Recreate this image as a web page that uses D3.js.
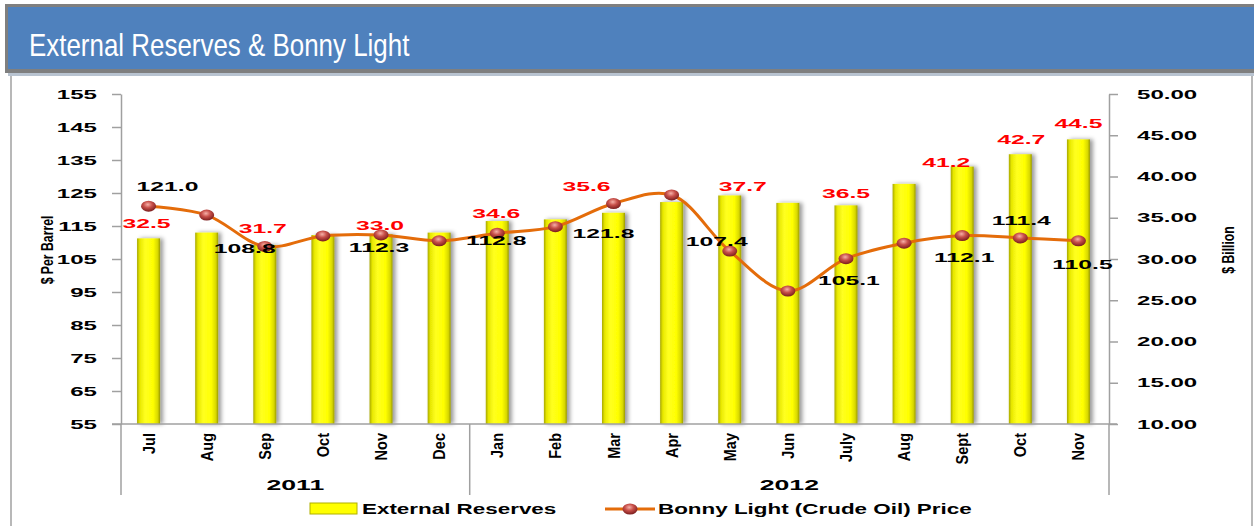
<!DOCTYPE html>
<html>
<head>
<meta charset="utf-8">
<script src="https://cdn.jsdelivr.net/npm/d3@7"></script>
<style>
  body { margin: 0; background: #fff; }
  svg { display: block; font-family: "Liberation Sans", Arial, sans-serif; }
</style>
</head>
<body>
<svg id="chart" width="1254" height="526"></svg>
<script>
// datos
const months = ["Jul", "Aug", "Sep", "Oct", "Nov", "Dec", "Jan", "Feb", "Mar", "Apr", "May", "Jun", "July", "Aug", "Sept", "Oct", "Nov"];
const years = ["2011", "2012"];
const yearLengths = [6, 11];
const reserves = [32.5, 33.2, 31.7, 32.9, 33.0, 33.2, 34.6, 34.8, 35.6, 36.9, 37.7, 36.8, 36.5, 39.1, 41.2, 42.7, 44.5];
const bonny = [121.0, 118.3, 108.8, 112.0, 112.3, 110.5, 112.8, 114.8, 121.8, 124.4, 107.4, 95.3, 105.1, 109.8, 112.1, 111.4, 110.5];
const labelled = [0, 2, 4, 6, 8, 10, 12, 14, 15, 16];
const leftTicks = [55, 65, 75, 85, 95, 105, 115, 125, 135, 145, 155];
const rightTicks = [10, 15, 20, 25, 30, 35, 40, 45, 50];

// desplazamiento manual de etiquetas (como en el original)
const reserveLabelShift = {0: [-2, -15], 2: [-2, -17], 4: [-1, -9], 6: [-1, -8], 8: [-27, -26], 10: [13, -9], 12: [0, -12], 14: [-16, -4], 15: [1, -15], 16: [0, -16]};
const bonnyLabelShift = {0: [19, -20], 2: [-20, 2], 4: [-2, 12], 6: [-1, 7], 8: [-10, 30], 10: [-13, -10], 12: [3, 22], 14: [2, 22], 15: [1, -18], 16: [4, 23]};

const svg = d3.select("#chart");
const W = 1254, H = 526;
const m = {left: 121, right: 1109, top: 94, bottom: 424};

// estirar texto horizontalmente, el original esta deformado
function stretch(sel, k) {
  sel.each(function () {
    const w = this.getComputedTextLength();
    d3.select(this).attr("textLength", w * k).attr("lengthAdjust", "spacingAndGlyphs");
  });
}

const defs = svg.append("defs");
const barGrad = defs.append("linearGradient").attr("id", "barGrad");
barGrad.selectAll("stop")
  .data([[0, "#a8a800"], [0.12, "#e8e800"], [0.35, "#ffff20"], [0.7, "#ffff00"], [0.9, "#d8d800"], [1, "#9a9a00"]])
  .join("stop")
  .attr("offset", d => d[0])
  .attr("stop-color", d => d[1]);

const dotGrad = defs.append("radialGradient").attr("id", "dotGrad")
  .attr("cx", "45%").attr("cy", "35%").attr("r", "65%");
dotGrad.selectAll("stop")
  .data([[0, "#f6b0a8"], [0.45, "#c8504a"], [1, "#7a1c1c"]])
  .join("stop")
  .attr("offset", d => d[0])
  .attr("stop-color", d => d[1]);

const shadow = defs.append("filter").attr("id", "shadow")
  .attr("x", "-20%").attr("y", "-5%").attr("width", "160%").attr("height", "110%");
shadow.append("feDropShadow")
  .attr("dx", 3).attr("dy", 0).attr("stdDeviation", 2)
  .attr("flood-color", "#000").attr("flood-opacity", 0.4);

// barra de titulo
svg.append("rect").attr("x", 5).attr("y", 4).attr("width", W - 5).attr("height", 69).attr("fill", "#7f7f7f");
svg.append("rect").attr("x", 8).attr("y", 7).attr("width", W - 8).attr("height", 62).attr("fill", "#4f81bd");
svg.append("rect").attr("x", 8).attr("y", 73).attr("width", W - 8).attr("height", 3).attr("fill", "#b8c3d0");
svg.append("text")
  .attr("x", 29).attr("y", 56)
  .attr("fill", "#fff")
  .attr("font-size", 32)
  .text("External Reserves & Bonny Light")
  .call(stretch, 0.81);

// marco del contenido
svg.append("line").attr("x1", 11).attr("x2", 11).attr("y1", 76).attr("y2", H).attr("stroke", "#a0a0a0").attr("stroke-width", 1.5);
svg.append("line").attr("x1", 1252).attr("x2", 1252).attr("y1", 76).attr("y2", H).attr("stroke", "#a0a0a0").attr("stroke-width", 1.5);

// escalas
const x = d3.scaleBand()
  .domain(d3.range(months.length))
  .range([m.left, m.right])
  .paddingInner(0).paddingOuter(0);
const yL = d3.scaleLinear().domain([55, 155]).range([m.bottom, m.top]);
const yR = d3.scaleLinear().domain([10, 50]).range([m.bottom, m.top]);
const cx = i => x(i) + x.bandwidth() / 2 - 1.5;
const barW = 23;

// barras (reservas, eje derecho)
svg.append("g")
  .selectAll("rect")
  .data(reserves)
  .join("rect")
  .attr("x", (d, i) => cx(i) - barW / 2)
  .attr("y", d => yR(d))
  .attr("width", barW)
  .attr("height", d => yR(10) - yR(d))
  .attr("fill", "url(#barGrad)")
  .attr("filter", "url(#shadow)");

// ejes
const axisColor = "#a0a0a0";
const gL = svg.append("g")
  .attr("transform", `translate(${m.left},0)`)
  .call(d3.axisLeft(yL).tickValues(leftTicks).tickSize(9).tickSizeOuter(0).tickPadding(15));
const gR = svg.append("g")
  .attr("transform", `translate(${m.right},0)`)
  .call(d3.axisRight(yR).tickValues(rightTicks).tickFormat(d3.format(".2f")).tickSize(9).tickSizeOuter(0).tickPadding(19));
[gL, gR].forEach(g => {
  g.select(".domain").attr("stroke", axisColor).attr("stroke-width", 1.5);
  g.selectAll(".tick line").attr("stroke", axisColor).attr("stroke-width", 1.5);
  g.selectAll(".tick text")
    .attr("fill", "#000")
    .attr("font-size", 13)
    .attr("font-weight", "bold")
    .attr("font-family", "Liberation Sans, Arial, sans-serif")
    .call(stretch, 1.85);
});

// eje x y separadores
svg.append("line").attr("x1", 112).attr("x2", 1117).attr("y1", m.bottom).attr("y2", m.bottom)
  .attr("stroke", axisColor).attr("stroke-width", 1.5);
let acc = 0;
const bounds = [0];
yearLengths.forEach(n => { acc += n; bounds.push(acc); });
svg.append("g")
  .selectAll("line")
  .data(bounds)
  .join("line")
  .attr("x1", d => m.left + d * x.bandwidth())
  .attr("x2", d => m.left + d * x.bandwidth())
  .attr("y1", m.bottom)
  .attr("y2", 495)
  .attr("stroke", axisColor).attr("stroke-width", 1.5);

svg.append("g")
  .selectAll("text")
  .data(months)
  .join("text")
  .attr("transform", (d, i) => `translate(${cx(i) + 6},433) rotate(-90)`)
  .attr("text-anchor", "end")
  .attr("font-size", 16.5)
  .attr("font-weight", "bold")
  .text(d => d)
  .call(stretch, 0.88);

svg.append("g")
  .selectAll("text")
  .data(years)
  .join("text")
  .attr("x", (d, i) => m.left + (bounds[i] + bounds[i + 1]) / 2 * x.bandwidth())
  .attr("y", 490)
  .attr("text-anchor", "middle")
  .attr("font-size", 14)
  .attr("font-weight", "bold")
  .text(d => d)
  .call(stretch, 1.9);

// titulos de ejes
svg.append("text")
  .attr("transform", "translate(53,250) rotate(-90)")
  .attr("text-anchor", "middle")
  .attr("font-size", 17)
  .attr("font-weight", "bold")
  .text("$ Per Barrel")
  .call(stretch, 0.72);
svg.append("text")
  .attr("transform", "translate(1234,250) rotate(-90)")
  .attr("text-anchor", "middle")
  .attr("font-size", 17)
  .attr("font-weight", "bold")
  .text("$ Billion")
  .call(stretch, 0.72);

// linea Bonny Light (eje izquierdo)
const line = d3.line()
  .x((d, i) => cx(i))
  .y(d => yL(d))
  .curve(d3.curveCatmullRom.alpha(0.5));
svg.append("path")
  .datum(bonny)
  .attr("d", line)
  .attr("fill", "none")
  .attr("stroke", "#e46c0a")
  .attr("stroke-width", 3);
svg.append("g")
  .selectAll("ellipse")
  .data(bonny)
  .join("ellipse")
  .attr("cx", (d, i) => cx(i))
  .attr("cy", d => yL(d))
  .attr("rx", 7.5)
  .attr("ry", 5.5)
  .attr("fill", "url(#dotGrad)");

// etiquetas de datos
svg.append("g")
  .selectAll("text")
  .data(labelled)
  .join("text")
  .attr("x", i => cx(i) + reserveLabelShift[i][0])
  .attr("y", i => yR(reserves[i]) + reserveLabelShift[i][1])
  .attr("dy", "0.36em")
  .attr("text-anchor", "middle")
  .attr("font-size", 13)
  .attr("font-weight", "bold")
  .attr("fill", "#ff0000")
  .text(i => reserves[i].toFixed(1))
  .call(stretch, 1.9);

svg.append("g")
  .selectAll("text")
  .data(labelled)
  .join("text")
  .attr("x", i => cx(i) + bonnyLabelShift[i][0])
  .attr("y", i => yL(bonny[i]) + bonnyLabelShift[i][1])
  .attr("dy", "0.36em")
  .attr("text-anchor", "middle")
  .attr("font-size", 13)
  .attr("font-weight", "bold")
  .attr("fill", "#000")
  .text(i => bonny[i].toFixed(1))
  .call(stretch, 1.9);

// leyenda
const legend = svg.append("g");
legend.append("rect")
  .attr("x", 310).attr("y", 503).attr("width", 47).attr("height", 11)
  .attr("fill", "#ffff00").attr("stroke", "#b0b000").attr("stroke-width", 1);
legend.append("text")
  .attr("x", 362).attr("y", 514)
  .attr("font-size", 14).attr("font-weight", "bold")
  .text("External Reserves")
  .call(stretch, 1.6);
legend.append("line")
  .attr("x1", 605).attr("x2", 655).attr("y1", 509).attr("y2", 509)
  .attr("stroke", "#e46c0a").attr("stroke-width", 3);
legend.append("ellipse")
  .attr("cx", 630).attr("cy", 509).attr("rx", 7.5).attr("ry", 5.5)
  .attr("fill", "url(#dotGrad)");
legend.append("text")
  .attr("x", 658).attr("y", 514)
  .attr("font-size", 14).attr("font-weight", "bold")
  .text("Bonny Light (Crude Oil) Price")
  .call(stretch, 1.6);
</script>
</body>
</html>
